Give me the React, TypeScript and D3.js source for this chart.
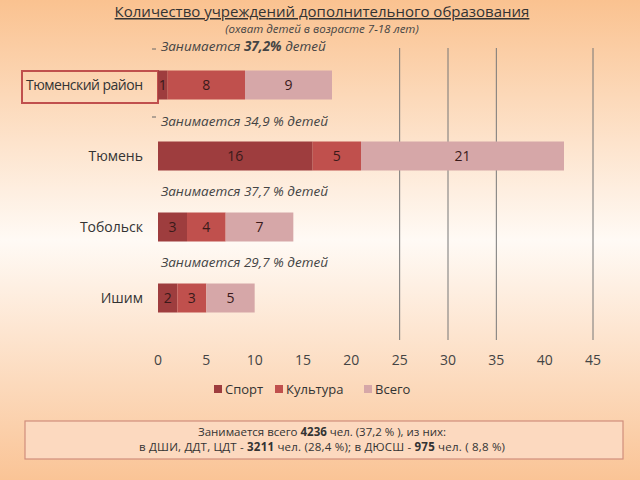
import React from "react";
import * as d3 from "d3";

const categories = ["Тюменский район", "Тюмень", "Тобольск", "Ишим"];
const sport = [1, 16, 3, 2];
const culture = [8, 5, 4, 3];
const total = [9, 21, 7, 5];
const shares = ["37,2%", "34,9 %", "37,7 %", "29,7 %"];
const seriesNames = ["Спорт", "Культура", "Всего"];
const xTicks = [0, 5, 10, 15, 20, 25, 30, 35, 40, 45];
const gridValues = [25, 30, 35, 45];

const colors = ["#9E3D3E", "#C0504D", "#D6A7A8"];
const FONT = "'Open Sans', 'Noto Sans', sans-serif";

export default function App() {
  const W = 640, H = 480;
  const x = d3.scaleLinear().domain([0, 45]).range([158, 593]);
  const barCenters = [85, 156, 227, 298];
  const barH = 29;
  const annY = [51, 126, 196, 267];

  const stack = d3.stack<any>().keys(["sport", "culture", "total"])(
    categories.map((c, i) => ({ cat: c, sport: sport[i], culture: culture[i], total: total[i] }))
  );

  return (
    <svg width={W} height={H} style={{ position: "fixed", left: 0, top: 0 }} fontFamily={FONT}>
      <defs>
        <linearGradient id="bg" x1="0" y1="0" x2="0" y2="1">
          <stop offset="0" stopColor="#FAC290" />
          <stop offset="0.5" stopColor="#FFFAF5" />
          <stop offset="1" stopColor="#FAC496" />
        </linearGradient>
      </defs>
      <rect x={0} y={0} width={W} height={H} fill="url(#bg)" />

      <text x={322} y={17} textAnchor="middle" fontSize={15} fill="#333" style={{ textDecoration: "underline" }}>
        Количество учреждений дополнительного образования
      </text>
      <text x={322} y={33} textAnchor="middle" fontSize={11.5} fontStyle="italic" fill="#444">
        (охват детей в возрасте 7-18 лет)
      </text>

      {gridValues.map((g) => (
        <line key={g} x1={x(g)} x2={x(g)} y1={48} y2={340} stroke="#777" strokeWidth={1} />
      ))}

      {shares.map((s, i) => (
        <text key={i} x={161} y={annY[i]} fontSize={13.5} fontStyle="italic" fill="#444">
          {i === 0 ? (
            <>
              Занимается <tspan fontWeight="bold">{s}</tspan> детей
            </>
          ) : (
            `Занимается ${s} детей`
          )}
        </text>
      ))}
      <line x1={152} x2={156} y1={49} y2={49} stroke="#666" />
      <line x1={152} x2={156} y1={117} y2={117} stroke="#666" />

      <rect x={22} y={71} width={136} height={32} fill="none" stroke="#C0504D" strokeWidth={2} />

      {stack.map((layer, si) =>
        layer.map((d, i) => (
          <g key={si + "-" + i}>
            <rect x={x(d[0])} y={barCenters[i] - barH / 2} width={x(d[1]) - x(d[0])} height={barH} fill={colors[si]} />
            <text
              x={(x(d[0]) + x(d[1])) / 2}
              y={barCenters[i] + 5}
              textAnchor="middle"
              fontSize={14}
              fill="#3a1a1a"
            >
              {d[1] - d[0]}
            </text>
          </g>
        ))
      )}

      {categories.map((c, i) => (
        <text key={c} x={143} y={barCenters[i] + 5} textAnchor="end" fontSize={14} fill="#333" textLength={i === 0 ? 117 : undefined}>
          {c}
        </text>
      ))}

      {xTicks.map((t) => (
        <text key={t} x={x(t)} y={365} textAnchor="middle" fontSize={14} fill="#444">
          {t}
        </text>
      ))}

      {seriesNames.map((n, i) => {
        const lx = [214, 275, 364][i];
        return (
          <g key={n}>
            <rect x={lx} y={385} width={8} height={8} fill={colors[i]} />
            <text x={lx + 11} y={394} fontSize={13} fill="#333">
              {n}
            </text>
          </g>
        );
      })}

      <rect x={25} y={421} width={598} height={38} fill="#FCD9BF" stroke="#D08E7C" strokeWidth={1.2} />
      <text x={322} y={436} textAnchor="middle" fontSize={11.5} fill="#333" textLength={248}>
        Занимается всего <tspan fontWeight="bold">4236</tspan> чел. (37,2 % ), из них:
      </text>
      <text x={322} y={451} textAnchor="middle" fontSize={11.5} fill="#333" textLength={366}>
        в ДШИ, ДДТ, ЦДТ - <tspan fontWeight="bold">3211</tspan> чел. (28,4 %);  в ДЮСШ - <tspan fontWeight="bold">975</tspan> чел. ( 8,8 %)
      </text>
    </svg>
  );
}
